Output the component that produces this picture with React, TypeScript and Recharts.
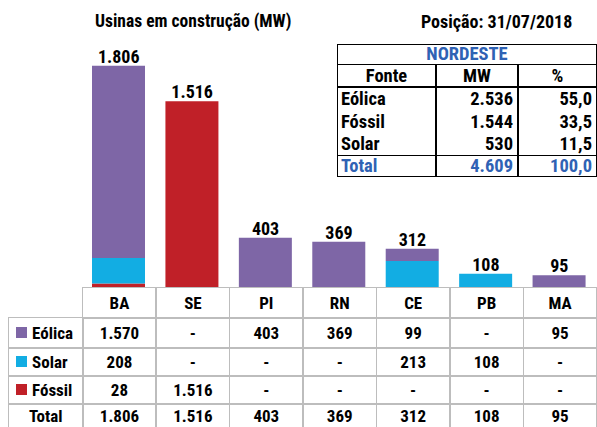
import React from 'react';
import { ComposedChart, Bar, Line, XAxis, YAxis, LabelList } from 'recharts';

const categories = ['BA', 'SE', 'PI', 'RN', 'CE', 'PB', 'MA'];
const eolica: (number | null)[] = [1570, null, 403, 369, 99, null, 95];
const solar: (number | null)[] = [208, null, null, null, 213, 108, null];
const fossil: (number | null)[] = [28, 1516, null, null, null, null, null];
const totals = [1806, 1516, 403, 369, 312, 108, 95];

const summaryFontes = ['Eólica', 'Fóssil', 'Solar'];
const summaryMW = [2536, 1544, 530];
const summaryPct = [55.0, 33.5, 11.5];
const summaryTotalMW = 4609;
const summaryTotalPct = 100.0;

const COLORS = { eolica: '#7E66A6', solar: '#12ADE3', fossil: '#C02028' };
const BLUE = '#2F62B4';
const FONT = "'Liberation Sans Narrow', 'Roboto Condensed', Lato, sans-serif";

const W = 597;
const H = 427;
const PLOT_LEFT = 82;
const PLOT_RIGHT = 596;
const BASE_Y = 287;
const COL_W = (PLOT_RIGHT - PLOT_LEFT) / categories.length;

const fmt = (v: number | null | undefined) =>
  v == null ? '-' : String(v).replace(/\B(?=(\d{3})+(?!\d))/g, '.');
const fmtPct = (v: number) => v.toFixed(1).replace('.', ',');

const data = categories.map((c, i) => ({
  name: c,
  eolica: eolica[i] ?? 0,
  solar: solar[i] ?? 0,
  fossil: fossil[i] ?? 0,
  total: totals[i],
}));

const GRID = '#BDBDBD';
const txt: React.CSSProperties = {
  position: 'absolute',
  fontFamily: FONT,
  fontWeight: 700,
  fontSize: 17,
  color: '#000',
  display: 'flex',
  alignItems: 'center',
  justifyContent: 'center',
  boxSizing: 'border-box',
  whiteSpace: 'nowrap',
};

const rows = [
  { label: 'Eólica', color: COLORS.eolica, values: eolica, top: 317, h: 30 },
  { label: 'Solar', color: COLORS.solar, values: solar, top: 347, h: 28 },
  { label: 'Fóssil', color: COLORS.fossil, values: fossil, top: 375, h: 28 },
  { label: 'Total', color: null, values: totals, top: 403, h: 25 },
];

function DataTable() {
  const cells: React.ReactNode[] = [];
  categories.forEach((c, i) => {
    cells.push(
      <div key={'h' + i} style={{ ...txt, left: PLOT_LEFT + i * COL_W, top: BASE_Y, width: COL_W + 1.5, height: 31.5, border: `1.5px solid ${GRID}` }}>
        {c}
      </div>
    );
  });
  rows.forEach((r, ri) => {
    cells.push(
      <div key={'l' + ri} style={{ ...txt, left: 8, top: r.top, width: PLOT_LEFT - 8 + 1.5, height: r.h + 1.5, border: `1.5px solid ${GRID}`, justifyContent: r.color ? 'flex-start' : 'center', paddingLeft: r.color ? 7 : 0 }}>
        {r.color && <span style={{ display: 'inline-block', width: 11, height: 11, background: r.color, marginRight: 5 }} />}
        {r.label}
      </div>
    );
    categories.forEach((c, i) => {
      cells.push(
        <div key={'c' + ri + '-' + i} style={{ ...txt, left: PLOT_LEFT + i * COL_W, top: r.top, width: COL_W + 1.5, height: r.h + 1.5, border: `1.5px solid ${GRID}` }}>
          {fmt(r.values[i])}
        </div>
      );
    });
  });
  return <>{cells}</>;
}

function SummaryTable() {
  const L = 337, T = 44, R = 597, B = 177;
  const cw = [99, 82, 79];
  const rowTops = [44, 64.5, 87, 110, 133, 155.5, 177];
  const s: React.CSSProperties = { ...txt, fontSize: 18.5 };
  const els: React.ReactNode[] = [];
  els.push(<div key="box" style={{ position: 'absolute', left: L, top: T, width: R - L, height: B - T, border: '1.5px solid #000', boxSizing: 'border-box' }} />);
  [rowTops[1], rowTops[2], rowTops[5]].forEach((y, i) => {
    els.push(<div key={'hl' + i} style={{ position: 'absolute', left: L, top: y - 0.75, width: R - L, height: 1.5, background: '#000' }} />);
  });
  [L + cw[0], L + cw[0] + cw[1]].forEach((x, i) => {
    els.push(<div key={'vl' + i} style={{ position: 'absolute', left: x - 0.75, top: rowTops[1], width: 1.5, height: B - rowTops[1], background: '#000' }} />);
  });
  els.push(<div key="nord" style={{ ...s, left: L, top: rowTops[0], width: R - L, height: rowTops[1] - rowTops[0], color: BLUE }}>NORDESTE</div>);
  const head = ['Fonte', 'MW', '%'];
  let x = L;
  head.forEach((h, i) => {
    els.push(<div key={'hd' + i} style={{ ...s, left: x, top: rowTops[1], width: cw[i], height: rowTops[2] - rowTops[1] }}>{h}</div>);
    x += cw[i];
  });
  const bodyRows = summaryFontes.map((f, i) => [f, fmt(summaryMW[i]), fmtPct(summaryPct[i])]);
  bodyRows.push(['Total', fmt(summaryTotalMW), fmtPct(summaryTotalPct)]);
  bodyRows.forEach((row, ri) => {
    let xx = L;
    row.forEach((v, ci) => {
      els.push(
        <div key={'b' + ri + '-' + ci} style={{ ...s, left: xx, top: rowTops[ri + 2], width: cw[ci], height: rowTops[ri + 3] - rowTops[ri + 2], justifyContent: ci === 0 ? 'flex-start' : 'flex-end', paddingLeft: ci === 0 ? 4 : 0, paddingRight: ci === 0 ? 0 : 5, color: ri === 3 ? BLUE : '#000' }}>
          {v}
        </div>
      );
      xx += cw[ci];
    });
  });
  return <>{els}</>;
}

export default function App() {
  return (
    <div style={{ position: 'absolute', left: 0, top: 0, width: W, height: H, background: '#fff', overflow: 'hidden' }}>
      <div style={{ ...txt, left: 95, top: 10, height: 22, justifyContent: 'flex-start', fontSize: 17.5 }}>Usinas em construção (MW)</div>
      <div style={{ ...txt, left: 421, top: 10, height: 22, justifyContent: 'flex-start', fontSize: 18 }}>Posição: 31/07/2018</div>
      <div style={{ position: 'absolute', left: 0, top: 0 }}>
        <ComposedChart width={W} height={290} data={data} margin={{ top: 42, right: W - PLOT_RIGHT, bottom: 3, left: PLOT_LEFT }}>
          <XAxis dataKey="name" hide />
          <YAxis hide domain={[0, 2000]} />
          <Bar dataKey="fossil" stackId="a" fill={COLORS.fossil} barSize={53} isAnimationActive={false} />
          <Bar dataKey="solar" stackId="a" fill={COLORS.solar} barSize={53} isAnimationActive={false} />
          <Bar dataKey="eolica" stackId="a" fill={COLORS.eolica} barSize={53} isAnimationActive={false} />
          <Line dataKey="total" stroke="none" dot={false} activeDot={false} isAnimationActive={false}>
            <LabelList dataKey="total" position="top" offset={3} formatter={(v: any) => fmt(v)} style={{ fontFamily: FONT, fontWeight: 700, fontSize: 18, fill: '#000' }} />
          </Line>
        </ComposedChart>
      </div>
      <SummaryTable />
      <DataTable />
    </div>
  );
}
